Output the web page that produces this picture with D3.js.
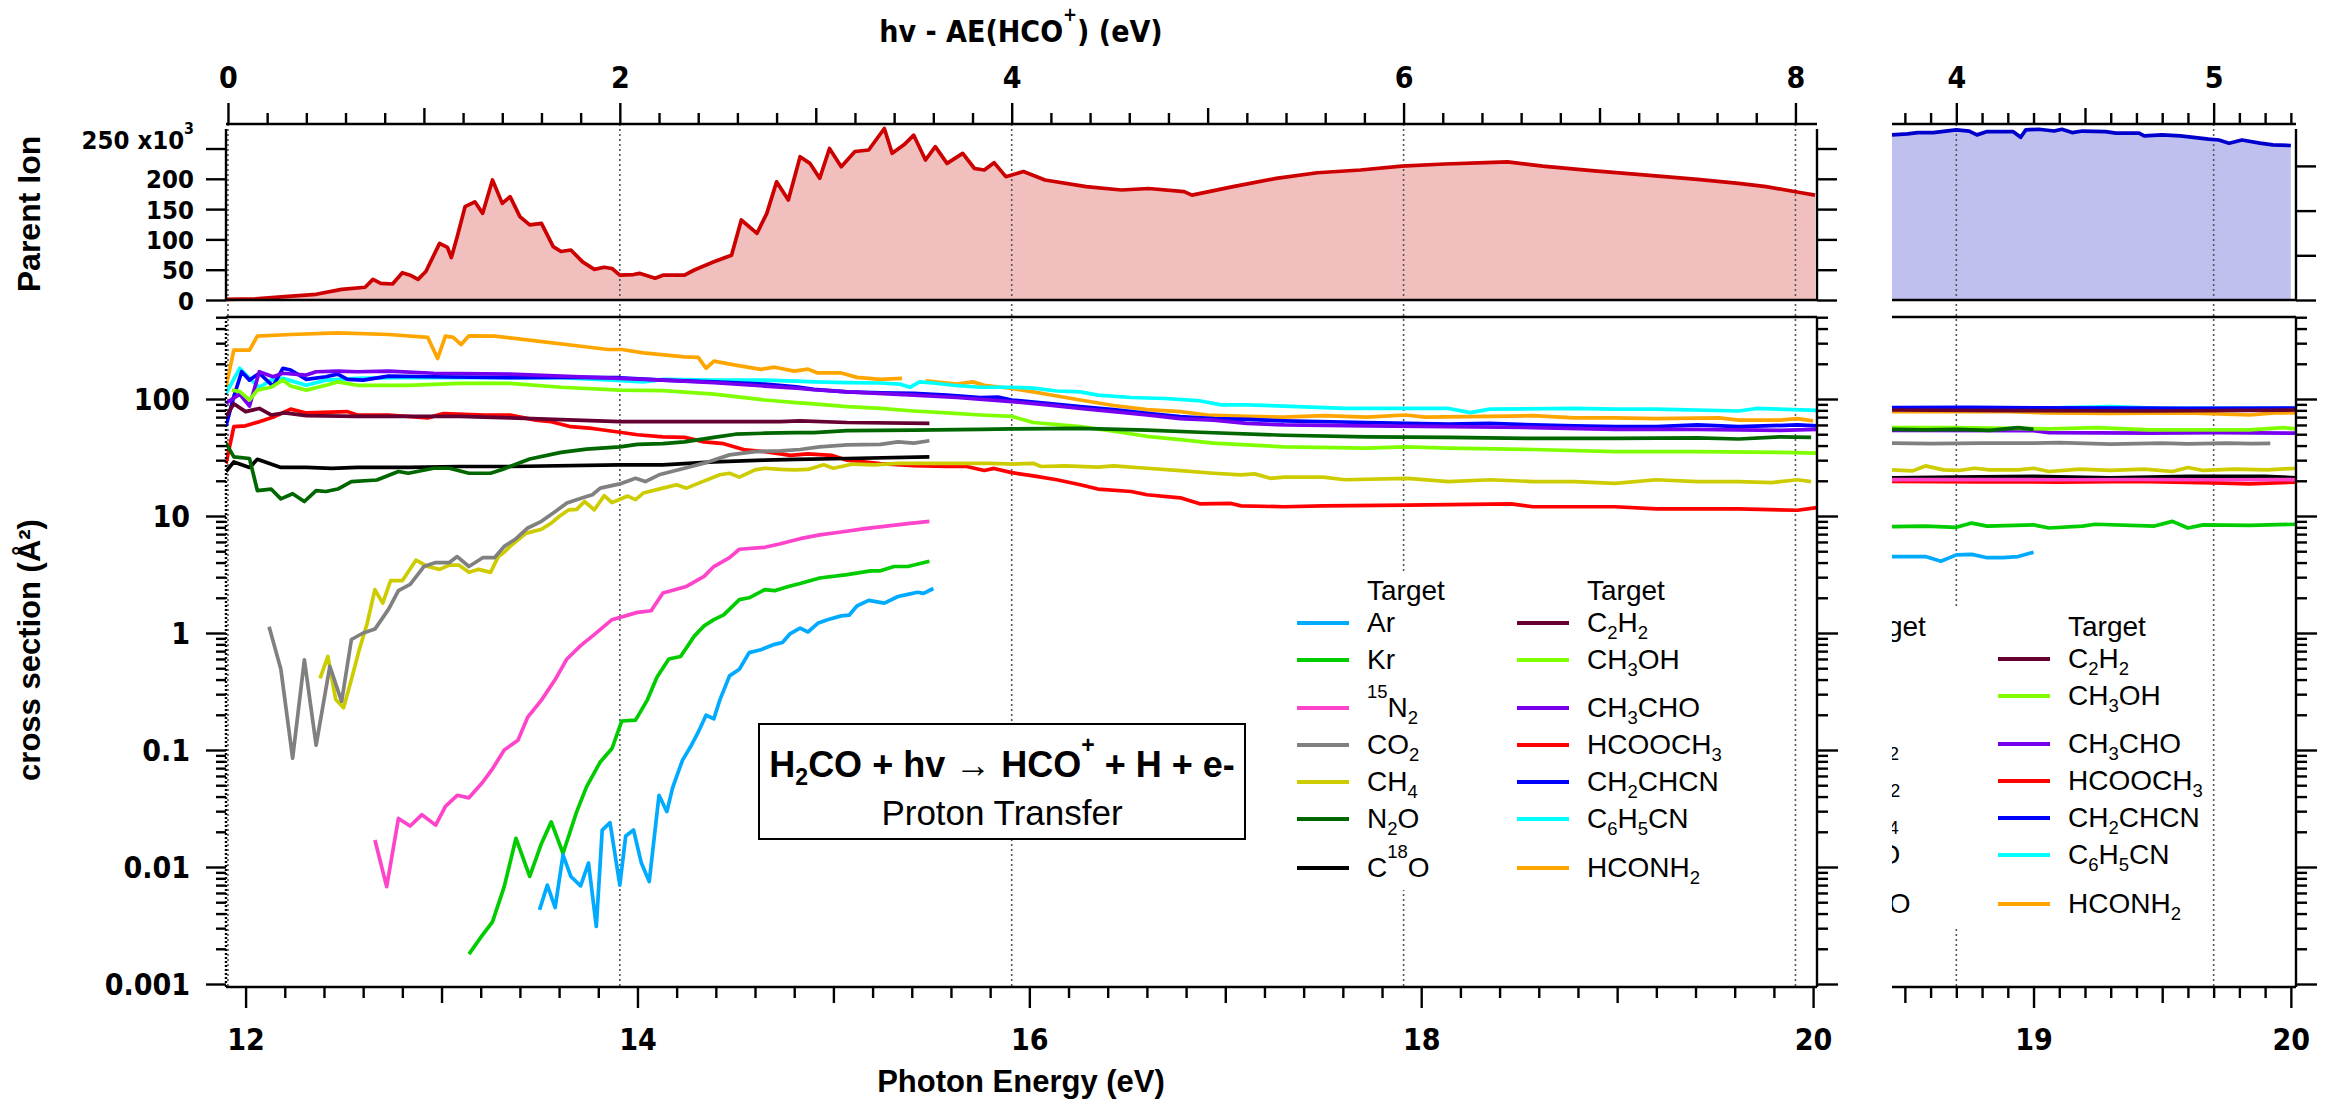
<!DOCTYPE html>
<html><head><meta charset="utf-8">
<script src="https://cdn.jsdelivr.net/npm/d3@7"></script>
<style>
body{margin:0;background:#fff}
svg{display:block}
text{white-space:pre}
</style></head><body>
<svg id="c" width="2327" height="1101"></svg>
<script>
// ---------------- DATA ----------------
const seriesNames = ["Ar","Kr","15N2","CO2","CH4","N2O","C18O","C2H2","CH3OH","CH3CHO","HCOOCH3","CH2CHCN","C6H5CN","HCONH2"];
const legendLeftLabels = ["Ar","Kr","^15N_2","CO_2","CH_4","N_2O","C^18O"];
const legendRightLabels = ["C_2H_2","CH_3OH","CH_3CHO","HCOOCH_3","CH_2CHCN","C_6H_5CN","HCONH_2"];
const bottomTicksMain = [12,14,16,18,20];
const bottomTicksRight = [19,20];
const topTicksMain = [0,2,4,6,8];
const topTicksRight = [4,5];
const logTicks = [0.001,0.01,0.1,1,10,100];
const parentTicks = [0,50,100,150,200,250];
const parentTicksRight = [0,50,100,150];

// Parent ion signal (x10^3 counts) vs photon energy (eV)
const parentMain = [[11.90,1],[12.05,2],[12.20,5.5],[12.36,9.4],[12.49,17.6],[12.61,21],[12.65,34],[12.69,27.5],[12.75,26.4],[12.80,45],[12.84,41],[12.88,34],[12.92,47],[12.99,93.5],[13.03,87],[13.05,70],[13.08,104.5],[13.12,154],[13.17,162],[13.21,143],[13.26,198],[13.31,159.5],[13.35,170.5],[13.40,137.5],[13.45,124],[13.51,126.5],[13.57,88],[13.61,80],[13.66,82.5],[13.72,63],[13.78,50.6],[13.83,54],[13.87,52],[13.91,41],[13.98,42],[14.01,44],[14.09,36],[14.13,41],[14.24,41],[14.29,49.5],[14.39,63],[14.48,74],[14.53,132],[14.61,110],[14.66,143],[14.71,195],[14.77,165],[14.83,236.5],[14.88,225.5],[14.93,200.8],[14.98,250],[15.04,220],[15.11,245],[15.18,247.5],[15.26,283],[15.30,242],[15.36,256],[15.41,272],[15.47,231],[15.52,253],[15.58,225.5],[15.66,242],[15.72,217],[15.77,214.5],[15.82,226.6],[15.88,203.5],[15.97,212],[16.08,198],[16.29,187],[16.47,181.5],[16.61,184],[16.79,178.8],[16.83,173],[17.04,187],[17.26,200.8],[17.47,210],[17.69,214.5],[17.90,221],[18.12,224.4],[18.33,226.6],[18.44,228],[18.62,221],[18.87,213.4],[19.15,206],[19.41,199],[19.62,192.5],[19.76,187],[19.94,177],[20.01,173]];
const parentRight = [[18.45,184.7],[18.51,185.8],[18.55,187.3],[18.61,187.3],[18.70,190.3],[18.75,189],[18.78,184.7],[18.82,188.4],[18.92,188.4],[18.95,182],[18.97,190.3],[19.02,191],[19.08,189],[19.11,191],[19.15,187.3],[19.19,189],[19.28,188.4],[19.32,186.6],[19.41,186.6],[19.43,183.6],[19.50,184.7],[19.57,183.6],[19.63,181.7],[19.68,179.9],[19.72,179],[19.76,175.4],[19.81,179],[19.88,175.4],[19.93,173.5],[20.00,172.8]];

// Cross sections (A^2) vs photon energy (eV), main panel
const ar = [[13.50,0.0043],[13.54,0.007],[13.58,0.0045],[13.62,0.0127],[13.66,0.0083],[13.71,0.0069],[13.75,0.0108],[13.79,0.0031],[13.82,0.0207],[13.86,0.0239],[13.91,0.007],[13.94,0.0184],[13.98,0.0207],[14.02,0.0108],[14.06,0.0075],[14.11,0.041],[14.15,0.0297],[14.18,0.048],[14.23,0.082],[14.27,0.106],[14.31,0.142],[14.35,0.198],[14.39,0.185],[14.42,0.267],[14.47,0.43],[14.52,0.49],[14.57,0.68],[14.63,0.72],[14.70,0.8],[14.74,0.83],[14.78,0.99],[14.83,1.1],[14.87,1.02],[14.92,1.21],[14.97,1.3],[15.04,1.4],[15.08,1.42],[15.12,1.7],[15.18,1.9],[15.26,1.8],[15.33,2.05],[15.38,2.14],[15.43,2.23],[15.46,2.18],[15.51,2.4]];
const kr = [[13.14,0.0018],[13.20,0.0025],[13.26,0.0034],[13.32,0.0068],[13.38,0.0176],[13.45,0.0083],[13.51,0.0159],[13.56,0.0243],[13.62,0.0131],[13.69,0.0297],[13.74,0.0484],[13.81,0.079],[13.87,0.103],[13.92,0.177],[13.99,0.18],[14.05,0.267],[14.10,0.42],[14.16,0.6],[14.22,0.63],[14.29,0.94],[14.34,1.15],[14.39,1.3],[14.44,1.43],[14.52,1.93],[14.57,2.0],[14.65,2.35],[14.70,2.3],[14.77,2.5],[14.83,2.65],[14.93,2.95],[15.07,3.15],[15.19,3.4],[15.24,3.4],[15.31,3.7],[15.38,3.7],[15.49,4.1]];
const n15 = [[12.66,0.017],[12.72,0.0068],[12.78,0.026],[12.84,0.0224],[12.90,0.028],[12.97,0.0228],[13.02,0.033],[13.08,0.041],[13.14,0.039],[13.21,0.053],[13.26,0.069],[13.32,0.1],[13.39,0.121],[13.44,0.191],[13.51,0.267],[13.58,0.4],[13.64,0.6],[13.71,0.78],[13.77,0.94],[13.87,1.3],[14.00,1.5],[14.07,1.55],[14.13,2.2],[14.25,2.5],[14.34,3.05],[14.39,3.7],[14.47,4.4],[14.52,5.2],[14.65,5.4],[14.73,5.8],[14.83,6.4],[14.93,6.9],[15.04,7.3],[15.16,7.8],[15.27,8.2],[15.38,8.6],[15.49,9.0]];
const co2 = [[12.12,1.13],[12.18,0.49],[12.24,0.085],[12.30,0.59],[12.36,0.11],[12.43,0.52],[12.49,0.26],[12.54,0.88],[12.60,1.0],[12.66,1.08],[12.73,1.6],[12.78,2.3],[12.84,2.6],[12.91,3.7],[12.97,4.0],[13.04,4.0],[13.08,4.5],[13.14,3.7],[13.21,4.4],[13.27,4.4],[13.32,5.5],[13.38,6.4],[13.44,7.9],[13.51,9.0],[13.57,10.6],[13.64,12.9],[13.72,14.3],[13.77,15.2],[13.81,17.3],[13.91,18.8],[13.99,21],[14.04,19.7],[14.11,22.5],[14.24,25.6],[14.34,28.3],[14.47,33.3],[14.60,35.5],[14.73,36],[14.83,37],[14.93,39],[15.07,40.5],[15.24,41],[15.33,43],[15.41,42],[15.49,44]];
const ch4 = [[12.38,0.41],[12.42,0.63],[12.46,0.27],[12.50,0.23],[12.54,0.4],[12.58,0.72],[12.62,1.2],[12.66,2.35],[12.70,1.8],[12.74,2.8],[12.80,2.8],[12.87,4.2],[12.93,3.7],[12.99,3.5],[13.04,3.8],[13.09,3.8],[13.14,3.3],[13.19,3.5],[13.25,3.3],[13.29,4.5],[13.32,4.9],[13.35,5.5],[13.43,7.1],[13.51,7.7],[13.56,8.7],[13.60,9.9],[13.65,11.3],[13.69,11.4],[13.73,13.3],[13.78,11.3],[13.83,14.9],[13.87,13],[13.95,14.8],[13.99,13.8],[14.03,15.7],[14.13,17.3],[14.20,18.5],[14.25,17.3],[14.31,19],[14.42,22.5],[14.47,23.2],[14.52,21.5],[14.60,24.8],[14.65,25.6],[14.73,25],[14.80,24.8],[14.87,25],[14.95,27.4],[15.00,25.6],[15.10,27.8],[15.21,27.4],[15.33,28.2],[15.50,28.2],[15.67,28.2],[15.80,28.2],[15.92,27.8],[16.02,28.2],[16.06,26.5],[16.18,26.8],[16.35,26.2],[16.43,26.8],[16.60,25.6],[16.77,24.4],[16.94,23.2],[17.08,22.5],[17.15,22.9],[17.23,21],[17.30,21.5],[17.50,21.5],[17.61,20.4],[17.93,21],[18.14,19.7],[18.35,20.4],[18.57,19.7],[18.78,19.7],[18.99,19],[19.20,20.4],[19.41,19.7],[19.62,19.7],[19.79,19.3],[19.92,20.4],[19.99,19.7]];
const n2o = [[11.90,42],[11.94,32],[12.02,31],[12.06,16.5],[12.13,17],[12.18,14],[12.24,15.5],[12.30,13.3],[12.36,16.5],[12.41,16.2],[12.47,17],[12.54,19.7],[12.67,20.3],[12.78,24],[12.83,23.2],[12.96,25.6],[13.04,25.6],[13.14,23.2],[13.25,23.2],[13.31,25],[13.45,30.7],[13.61,35],[13.74,37.3],[13.91,39],[14.00,41],[14.13,41.5],[14.24,43],[14.39,47],[14.50,50],[14.65,51],[14.81,51.5],[14.90,51.5],[15.07,53.6],[15.41,54.3],[15.75,55],[15.91,55.6],[16.26,56],[16.60,54.3],[16.87,52],[17.30,49],[17.72,47.5],[18.14,47],[18.57,46],[18.99,46],[19.41,46.5],[19.62,45.5],[19.83,47.5],[19.99,47]];
const c18o = [[11.90,24],[11.94,29],[12.02,26],[12.06,30.5],[12.18,26],[12.31,26],[12.44,25.5],[12.57,26],[12.83,26],[13.09,26.5],[13.35,26.5],[13.91,27.4],[14.13,27.4],[14.39,29],[14.65,30],[14.81,30.5],[15.07,31],[15.49,32]];
const c2h2 = [[11.90,71],[11.94,91],[12.00,78],[12.07,83],[12.13,73],[12.20,76],[12.31,72],[12.57,71],[12.83,71],[13.09,71],[13.35,69],[13.91,64],[14.39,64],[14.73,64],[14.83,65],[15.07,63],[15.49,62]];
const ch3oh = [[11.93,119],[11.97,116],[12.02,98],[12.06,119],[12.13,126],[12.19,145],[12.23,129],[12.31,119],[12.41,131],[12.47,140],[12.57,131],[12.83,131],[13.09,136],[13.35,136],[13.61,126],[13.91,119],[14.13,118],[14.39,110],[14.65,98],[14.81,93],[14.90,91],[15.07,86],[15.24,83],[15.41,79],[15.58,76],[15.75,73],[15.91,71],[16.02,63],[16.26,58],[16.43,53],[16.60,48],[16.77,45],[16.94,42],[17.11,40.5],[17.30,39],[17.72,38],[17.92,39],[18.14,38],[18.57,37],[18.99,35.5],[19.41,35.5],[19.83,35],[20.02,34.5]];
const ch3cho = [[11.90,92],[11.97,110],[12.02,87],[12.07,171],[12.14,155],[12.19,166],[12.31,160],[12.36,171],[12.47,173],[12.57,171],[12.73,173],[12.96,166],[13.35,163],[13.61,157],[13.91,150],[14.13,145],[14.39,138],[14.65,129],[14.81,124],[14.90,120],[15.07,115],[15.41,108],[15.63,103],[15.91,95],[16.09,89],[16.26,83],[16.43,78],[16.60,73],[16.77,68],[16.94,66],[17.11,62],[17.30,60],[17.72,59],[18.14,58],[18.57,57],[18.99,55],[19.41,55],[19.83,54],[20.02,55]];
const hcooch3 = [[11.90,28],[11.94,58],[12.00,59],[12.07,64],[12.15,71],[12.23,82],[12.31,76],[12.52,78],[12.57,73],[12.73,73],[12.93,69],[13.01,75],[13.22,73],[13.35,73],[13.48,66],[13.56,64],[13.66,58],[13.77,56],[13.91,52],[14.00,49.5],[14.13,47.5],[14.24,47],[14.34,43],[14.44,41.5],[14.55,36.7],[14.65,35.5],[14.73,34],[14.78,33],[14.87,34],[14.99,33],[15.07,30],[15.24,28],[15.41,27],[15.58,26.5],[15.68,26.5],[15.77,24.5],[15.82,25.5],[15.91,23.5],[16.02,22],[16.14,20.4],[16.26,18.5],[16.35,17],[16.52,16.2],[16.60,15.2],[16.77,14.3],[16.87,12.7],[17.03,12.8],[17.08,12.2],[17.30,12],[17.50,12.2],[17.93,12.4],[18.46,12.7],[18.57,12],[18.99,12],[19.20,11.5],[19.62,11.5],[19.92,11.2],[20.02,11.8]];
const ch2chcn = [[11.90,59],[11.94,105],[11.98,171],[12.02,145],[12.07,166],[12.14,129],[12.19,183],[12.23,177],[12.31,147],[12.41,155],[12.47,163],[12.52,147],[12.60,145],[12.73,157],[12.96,155],[13.35,152],[13.61,153],[13.91,152],[14.13,145],[14.39,140],[14.65,134],[14.81,127],[14.90,121],[15.07,115],[15.24,113],[15.41,112],[15.58,108],[15.75,103],[15.84,104],[15.91,98],[16.09,92],[16.26,86],[16.43,81],[16.60,75.5],[16.77,70.6],[16.94,68],[17.11,67],[17.30,65],[17.72,63],[18.14,61],[18.35,62],[18.57,60],[18.78,59],[18.99,58],[19.20,58],[19.41,60],[19.62,58],[19.92,60],[20.02,59]];
const c6h5cn = [[11.90,112],[11.97,183],[12.02,150],[12.07,126],[12.13,145],[12.19,150],[12.31,131],[12.41,145],[12.57,150],[12.83,153],[13.09,152],[13.35,152],[13.61,152],[13.87,145],[14.03,140],[14.13,147],[14.39,145],[14.65,145],[14.81,142],[14.90,140],[15.07,138],[15.24,137],[15.34,134],[15.39,126],[15.44,140],[15.51,137],[15.61,131],[15.75,126],[15.91,126],[16.02,124],[16.14,117],[16.26,115],[16.35,108],[16.52,103],[16.69,101],[16.86,97],[16.98,89],[17.11,89],[17.30,87],[17.61,83],[17.92,83],[18.14,83],[18.25,76.5],[18.35,82],[18.78,83],[18.99,82],[19.20,82],[19.62,79],[19.71,83],[20.02,80]];
const hconh2 = [[11.90,127],[11.94,262],[12.02,262],[12.06,345],[12.23,356],[12.47,367],[12.73,356],[12.93,336],[12.98,222],[13.02,345],[13.06,336],[13.10,292],[13.14,347],[13.27,345],[13.48,314],[13.69,285],[13.85,265],[13.92,265],[14.03,248],[14.24,229],[14.31,227],[14.35,183],[14.39,211],[14.50,195],[14.63,179],[14.70,187],[14.80,173],[14.87,180],[14.92,167],[15.04,167],[15.12,153],[15.24,147],[15.35,150],[15.41,null],[15.47,143],[15.63,134],[15.71,140],[15.77,131],[15.91,123],[16.02,115],[16.14,106],[16.26,98],[16.43,88],[16.60,81],[16.77,78],[16.91,73],[17.11,71],[17.30,70],[17.50,72],[17.72,70],[17.92,73],[18.02,70],[18.35,71],[18.57,72],[18.78,69],[18.99,69],[19.20,68],[19.52,69],[19.62,66],[19.83,66],[19.92,68],[20.00,65]];

// Right panel cross sections
const arR = [[18.45,4.5],[18.53,4.5],[18.58,4.5],[18.64,4.1],[18.70,4.65],[18.76,4.7],[18.82,4.4],[18.88,4.4],[18.94,4.5],[19.00,4.9]];
const krR = [[18.45,8.1],[18.58,8.2],[18.70,8.0],[18.76,8.7],[18.82,8.2],[19.00,8.4],[19.06,7.9],[19.19,8.2],[19.24,8.5],[19.47,8.2],[19.54,9.0],[19.60,7.9],[19.66,8.4],[19.84,8.3],[20.02,8.5]];
const n15R = [[18.45,20.5],[18.80,20.5],[19.10,20.4],[19.40,20.5],[19.70,20.4],[20.02,20.5]];
const co2R = [[18.45,42],[18.60,41.5],[18.80,42],[19.00,42],[19.10,42.3],[19.30,41.2],[19.50,42],[19.60,41.3],[19.75,42],[19.85,41.5],[19.92,41.8]];
const ch4R = [[18.45,24.8],[18.53,24.3],[18.58,26.8],[18.65,24.8],[18.71,24.5],[18.77,25.6],[18.83,24.8],[18.94,24.8],[19.00,25.6],[19.06,24.0],[19.18,25.2],[19.30,24.5],[19.43,25.2],[19.54,24.0],[19.60,26],[19.66,24.5],[19.78,25.2],[19.91,24.8],[20.02,25.6]];
const n2oR = [[18.45,55],[18.58,54.5],[18.70,55],[18.83,54],[18.94,57],[19.00,55]];
const c18oR = [[18.45,21.2],[18.70,21.5],[19.00,21.8],[19.30,21.2],[19.60,21.8],[19.90,21.8],[20.02,21.2]];
const c2h2R = [[18.45,80.5],[18.94,79.5],[19.45,79],[20.02,80.5]];
const ch3ohR = [[18.45,57],[18.68,57],[19.06,55.5],[19.25,57],[19.45,54.5],[19.84,54.5],[19.97,57],[20.02,55.5]];
const ch3choR = [[18.45,54],[19.00,53.6],[19.06,51.6],[19.45,51],[19.71,51.6],[20.02,51]];
const hcooch3R = [[18.45,19.8],[18.80,19.6],[19.10,19.5],[19.40,19.8],[19.70,19.2],[19.84,18.8],[20.02,19.5]];
const ch2chcnR = [[18.45,84.5],[18.75,85],[19.00,84],[19.40,83.5],[19.60,83],[20.02,83.5]];
const c6h5cnR = [[18.45,83],[19.00,83],[19.30,86],[19.50,83],[20.02,83]];
const hconh2R = [[18.45,78],[18.90,78],[19.05,76],[19.30,75.5],[19.60,76],[19.84,73],[19.95,76.5],[20.02,76]];

const mainSeries = [ar,kr,n15,co2,ch4,n2o,c18o,c2h2,ch3oh,ch3cho,hcooch3,ch2chcn,c6h5cn,hconh2];
const rightSeries = [arR,krR,n15R,co2R,ch4R,n2oR,c18oR,c2h2R,ch3ohR,ch3choR,hcooch3R,ch2chcnR,c6h5cnR,hconh2R];

// ---------------- STYLE / LAYOUT ----------------
const seriesColors = ["#00aaff","#00cc00","#ff44cc","#808080","#cccc00","#006600","#000000","#660033","#80ff00","#7700ee","#ff0000","#0000ff","#00ffff","#ffa500"];
const TICK_FONT = '"DejaVu Sans Condensed","DejaVu Sans",sans-serif';
const TEXT_FONT = '"Liberation Sans",Arial,Helvetica,sans-serif';
const TICK_SIZE = 30;
const PAR_TICK_SIZE = 25.5;
const LW = 3.7;
const AE_MAIN = 11.91, AE_RIGHT = 14.70;
const P = {mainL:226, mainR:1817, rightL:1892, rightR:2296, axTop:124, parTop:129, parBot:300, lowTop:317, lowBot:987};

const svg = d3.select("#c");
const xMain = d3.scaleLinear().domain([11.90,20.02]).range([P.mainL,P.mainR]);
const xRight = d3.scaleLinear().domain([18.45,20.02]).range([P.rightL,P.rightR]);
const tMain = d3.scaleLinear().domain([11.90-AE_MAIN,20.02-AE_MAIN]).range([P.mainL,P.mainR]);
const tRight = d3.scaleLinear().domain([18.45-AE_RIGHT,20.02-AE_RIGHT]).range([P.rightL,P.rightR]);
const yPar = d3.scaleLinear().domain([0,250]).range([P.parBot,148.5]);
const yParR = d3.scaleLinear().domain([0,50]).range([P.parBot,255.3]);
const yLog = d3.scaleLog().domain([0.001,100]).range([984,399]);

const defs = svg.append("defs");
function clip(id,x0,y0,x1,y1){defs.append("clipPath").attr("id",id).append("rect").attr("x",x0).attr("y",y0).attr("width",x1-x0).attr("height",y1-y0);}
clip("cLowMain",P.mainL,P.lowTop,P.mainR,P.lowBot);
clip("cLowRight",P.rightL,P.lowTop,P.rightR,P.lowBot);
clip("cLegRight",P.rightL,P.lowTop,P.rightR,P.lowBot);

// ---------- fills of parent ion ----------
const areaMain = d3.area().x(d=>xMain(d[0])).y0(yPar(0)).y1(d=>yPar(d[1]));
const lineMainP = d3.line().x(d=>xMain(d[0])).y(d=>yPar(d[1]));
const areaRight = d3.area().x(d=>xRight(d[0])).y0(yParR(0)).y1(d=>yParR(d[1]));
const lineRightP = d3.line().x(d=>xRight(d[0])).y(d=>yParR(d[1]));
svg.append("path").attr("d",areaMain(parentMain)).attr("fill","#f2bfbf");
svg.append("path").attr("d",areaRight(parentRight)).attr("fill","#bfc0ee");

// ---------- dotted verticals ----------
const gDot = svg.append("g").attr("stroke","#555").attr("stroke-width",1.6).attr("stroke-dasharray","2,3");
topTicksMain.forEach(v=>gDot.append("line").attr("x1",tMain(v)).attr("x2",tMain(v)).attr("y1",P.axTop).attr("y2",P.lowBot));
topTicksRight.forEach(v=>gDot.append("line").attr("x1",tRight(v)).attr("x2",tRight(v)).attr("y1",P.axTop).attr("y2",P.lowBot));

// ---------- parent lines ----------
svg.append("path").attr("d",lineMainP(parentMain)).attr("fill","none").attr("stroke","#cc0000").attr("stroke-width",LW).attr("stroke-linejoin","round");
svg.append("path").attr("d",lineRightP(parentRight)).attr("fill","none").attr("stroke","#0000cc").attr("stroke-width",LW).attr("stroke-linejoin","round");

// ---------- cross-section lines ----------
const lineM = d3.line().defined(d=>d[1]!=null).x(d=>xMain(d[0])).y(d=>yLog(d[1]));
const lineR = d3.line().defined(d=>d[1]!=null).x(d=>xRight(d[0])).y(d=>yLog(d[1]));
const gLM = svg.append("g").attr("clip-path","url(#cLowMain)");
const gLR = svg.append("g").attr("clip-path","url(#cLowRight)");
for(let i=mainSeries.length-1;i>=0;i--){
  gLM.append("path").attr("d",lineM(mainSeries[i])).attr("fill","none").attr("stroke",seriesColors[i]).attr("stroke-width",LW).attr("stroke-linejoin","round");
  gLR.append("path").attr("d",lineR(rightSeries[i])).attr("fill","none").attr("stroke",seriesColors[i]).attr("stroke-width",LW).attr("stroke-linejoin","round");
}

// ---------- rich text helper ----------
function rich(sel,str,o){
  const toks = str.match(/_[0-9]+|\^[0-9+]+|[^_^]+/g);
  let cur=0;
  toks.forEach(t=>{
    let txt=t, fs=o.size, sh=0;
    if(t[0]==='_'){txt=t.slice(1);fs=o.size*o.subScale;sh=o.subShift;}
    else if(t[0]==='^'){txt=t.slice(1);fs=o.size*o.supScale;sh=o.supShift;}
    sel.append("tspan").attr("dy",sh-cur).attr("font-size",fs).text(txt);
    cur=sh;
  });
  return sel;
}

// ---------- legends ----------
const rowOff = [0,37,85,122,159,196,245];
function legend(parent,x0,y0){
  const cols = [[x0,legendLeftLabels,0],[x0+220,legendRightLabels,7]];
  parent.append("rect").attr("x",x0-12).attr("y",y0-50).attr("width",420).attr("height",317).attr("fill","#fff");
  cols.forEach(([cx,labels,off])=>{
    parent.append("text").attr("x",cx+70).attr("y",y0-23).attr("font-family",TEXT_FONT).attr("font-size",28).text("Target");
    labels.forEach((lab,i)=>{
      const y=y0+rowOff[i];
      parent.append("line").attr("x1",cx).attr("x2",cx+52).attr("y1",y).attr("y2",y).attr("stroke",seriesColors[i+off]).attr("stroke-width",3.8);
      const t=parent.append("text").attr("x",cx+70).attr("y",y+9).attr("font-family",TEXT_FONT).attr("font-size",28);
      rich(t,lab,{size:28,subScale:0.66,subShift:7,supScale:0.66,supShift:-19});
    });
  });
}
legend(svg.append("g"),1297,623);
legend(svg.append("g").attr("clip-path","url(#cLegRight)"),1778,659);

// ---------- text box ----------
svg.append("rect").attr("x",759).attr("y",724).attr("width",486).attr("height",115).attr("fill","#fff").attr("stroke","#000").attr("stroke-width",2);
rich(svg.append("text").attr("x",1002).attr("y",777).attr("text-anchor","middle").attr("font-family",TEXT_FONT).attr("font-weight","bold").attr("font-size",36),
  "H_2CO + hv \u2192 HCO^+ + H + e-",{size:36,subScale:0.64,subShift:8,supScale:0.64,supShift:-24});
svg.append("text").attr("x",1002).attr("y",825).attr("text-anchor","middle").attr("font-family",TEXT_FONT).attr("font-size",35).text("Proton Transfer");

// ---------- frame lines ----------
const gF = svg.append("g").attr("stroke","#000").attr("stroke-width",2.4);
function L(x1,y1,x2,y2,dash){const l=gF.append("line").attr("x1",x1).attr("y1",y1).attr("x2",x2).attr("y2",y2);if(dash)l.attr("stroke-dasharray",dash);}
L(P.mainL,P.axTop,P.mainR,P.axTop);
L(P.mainL,P.parTop,P.mainL,P.parBot);
L(P.mainR,P.parTop,P.mainR,P.parBot);
L(P.mainL,yPar(0),P.mainR,yPar(0));
L(P.mainL,P.lowTop,P.mainR,P.lowTop);
L(P.mainR,P.lowTop,P.mainR,P.lowBot);
L(P.mainL,P.lowBot,P.mainR,P.lowBot);
L(P.mainL,P.lowTop,P.mainL,P.lowBot,"2,2");
L(P.rightL,P.axTop,P.rightR,P.axTop);
L(P.rightR,P.parTop,P.rightR,P.parBot);
L(P.rightL,yParR(0),P.rightR,yParR(0));
L(P.rightL,P.lowTop,P.rightR,P.lowTop);
L(P.rightR,P.lowTop,P.rightR,P.lowBot);
L(P.rightL,P.lowBot,P.rightR,P.lowBot);

// ---------- axes ----------
function styleAxis(g,size){
  g.attr("font-family",TICK_FONT).attr("font-size",size||TICK_SIZE).attr("font-weight","bold").style("font-stretch","condensed");
  g.select(".domain").remove();
  g.selectAll(".tick line").attr("stroke","#000").attr("stroke-width",2.4);
  g.selectAll(".tick text").attr("fill","#000");
  return g;
}
const stepVals=(a,b,s)=>d3.range(Math.round(a/s),Math.round(b/s)+1).map(i=>+(i*s).toFixed(3));
function minorAxes(axisFn,scale,pos,vals,majors,mediums){
  const med=vals.filter(v=>mediums.some(m=>Math.abs(m-v)<1e-6));
  const mnr=vals.filter(v=>!majors.some(m=>Math.abs(m-v)<1e-6)&&!mediums.some(m=>Math.abs(m-v)<1e-6));
  styleAxis(svg.append("g").attr("transform",pos).call(axisFn(scale).tickValues(mnr).tickSize(11).tickFormat("")));
  if(med.length) styleAxis(svg.append("g").attr("transform",pos).call(axisFn(scale).tickValues(med).tickSize(16).tickFormat("")));
}
// top main
let g = styleAxis(svg.append("g").attr("transform",`translate(0,${P.axTop})`).call(d3.axisTop(tMain).tickValues(topTicksMain).tickSize(21).tickFormat(d3.format("d"))));
g.selectAll(".tick text").attr("y",-36).attr("dy",0);
minorAxes(d3.axisTop,tMain,`translate(0,${P.axTop})`,stepVals(0,8,0.2),topTicksMain,[1,3,5,7]);
// top right
g = styleAxis(svg.append("g").attr("transform",`translate(0,${P.axTop})`).call(d3.axisTop(tRight).tickValues(topTicksRight).tickSize(21).tickFormat(d3.format("d"))));
g.selectAll(".tick text").attr("y",-36).attr("dy",0);
minorAxes(d3.axisTop,tRight,`translate(0,${P.axTop})`,stepVals(3.8,5.3,0.1),topTicksRight,[4.5]);
// bottom main
g = styleAxis(svg.append("g").attr("transform",`translate(0,${P.lowBot})`).call(d3.axisBottom(xMain).tickValues(bottomTicksMain).tickSize(21).tickFormat(d3.format("d"))));
g.selectAll(".tick text").attr("y",63).attr("dy",0);
minorAxes(d3.axisBottom,xMain,`translate(0,${P.lowBot})`,stepVals(12,20,0.2),bottomTicksMain,[13,15,17,19]);
// bottom right
g = styleAxis(svg.append("g").attr("transform",`translate(0,${P.lowBot})`).call(d3.axisBottom(xRight).tickValues(bottomTicksRight).tickSize(21).tickFormat(d3.format("d"))));
g.selectAll(".tick text").attr("y",63).attr("dy",0);
minorAxes(d3.axisBottom,xRight,`translate(0,${P.lowBot})`,stepVals(18.5,20,0.1),bottomTicksRight,[18.5,19.5]);
// log axes
const logMinor=[];
[-3,-2,-1,0,1,2].forEach(k=>{for(let m=2;m<=9;m++){const v=+(m*Math.pow(10,k)).toPrecision(3);if(v<=500)logMinor.push(v);}});
g = styleAxis(svg.append("g").attr("transform",`translate(${P.mainL},0)`).call(d3.axisLeft(yLog).tickValues(logTicks).tickSize(20).tickPadding(16).tickFormat(d=>String(d))));
g.selectAll(".tick text").attr("dy","0.36em");
styleAxis(svg.append("g").attr("transform",`translate(${P.mainL},0)`).call(d3.axisLeft(yLog).tickValues(logMinor).tickSize(10).tickFormat("")));
[P.mainR,P.rightR].forEach(xp=>{
  styleAxis(svg.append("g").attr("transform",`translate(${xp},0)`).call(d3.axisRight(yLog).tickValues(logTicks).tickSize(21).tickFormat("")));
  styleAxis(svg.append("g").attr("transform",`translate(${xp},0)`).call(d3.axisRight(yLog).tickValues(logMinor).tickSize(11).tickFormat("")));
});
// parent axes
g = styleAxis(svg.append("g").attr("transform",`translate(${P.mainL},0)`).call(d3.axisLeft(yPar).tickValues(parentTicks).tickSize(20).tickPadding(12).tickFormat(d=>d===250?"":String(d))),PAR_TICK_SIZE);
g.selectAll(".tick text").attr("dy","0.36em");
g.selectAll(".tick").filter(d=>d===250).select("text").call(t=>rich(t,"250 x10^3",{size:PAR_TICK_SIZE,subScale:0.62,subShift:0,supScale:0.62,supShift:-15}));
styleAxis(svg.append("g").attr("transform",`translate(${P.mainR},0)`).call(d3.axisRight(yPar).tickValues(parentTicks).tickSize(20).tickFormat("")));
styleAxis(svg.append("g").attr("transform",`translate(${P.rightR},0)`).call(d3.axisRight(yParR).tickValues(parentTicksRight).tickSize(20).tickFormat("")));

// ---------- titles ----------
rich(svg.append("text").attr("x",1021).attr("y",42).attr("text-anchor","middle").attr("font-family",TICK_FONT).style("font-stretch","condensed").attr("font-weight","bold").attr("font-size",30),
  "hv - AE(HCO^+) (eV)",{size:30,subScale:0.6,subShift:0,supScale:0.62,supShift:-21});
svg.append("text").attr("x",1021).attr("y",1092).attr("text-anchor","middle").attr("font-family",TEXT_FONT).attr("font-weight","bold").attr("font-size",31).text("Photon Energy (eV)");
svg.append("text").attr("transform","translate(40,214) rotate(-90)").attr("text-anchor","middle").attr("font-family",TEXT_FONT).attr("font-weight","bold").attr("font-size",32).text("Parent Ion");
svg.append("text").attr("transform","translate(40,650) rotate(-90)").attr("text-anchor","middle").attr("font-family",TEXT_FONT).attr("font-weight","bold").attr("font-size",31).text("cross section (\u00C5\u00B2)");
</script>
</body></html>
